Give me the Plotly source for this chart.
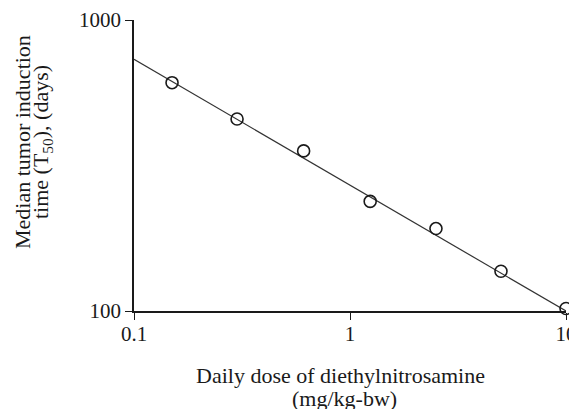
import plotly.graph_objects as go

# Data (log-log)
dose = [0.15, 0.3, 0.61, 1.24, 2.5, 5.0, 10.0]
t50 = [609, 457, 355, 238, 192, 137, 102]
fit_dose = [0.1, 10.0]
fit_t50 = [733, 100]

x_ticks = [0.1, 1, 10]
x_tick_text = ["0.1", "1", "10"]
y_ticks = [100, 1000]
y_tick_text = ["100", "1000"]

x_title_lines = ["Daily dose of diethylnitrosamine", "(mg/kg-bw)"]
y_title_lines = ["Median tumor induction", "time (T<sub>50</sub>), (days)"]

FONT = "Liberation Serif"
FS_TICK = 21
FS_TITLE = 22
INK = "#1a1a1a"

# page has an 8px body margin; design in page pixels, then offset
OFF = 8
W, H = 577 - OFF, 409 - OFF
# plot area in page pixels: x 134..566, y 20..311
L = 134 - OFF
T = 20 - OFF
R = W - (566 - OFF)
B = H - (311 - OFF)
PW, PH = W - L - R, H - T - B


def px_x(px):
    return (px - OFF - L) / PW


def px_y(py):
    return (H - B - (py - OFF)) / PH


fig = go.Figure()
fig.add_trace(go.Scatter(
    x=fit_dose, y=fit_t50, mode="lines",
    line=dict(color="#333333", width=1.2),
    showlegend=False, cliponaxis=False,
))
fig.add_trace(go.Scatter(
    x=dose, y=t50, mode="markers",
    marker=dict(symbol="circle-open", size=12, color=INK,
                line=dict(width=1.6, color=INK)),
    showlegend=False, cliponaxis=False,
))

annotations = [
    dict(text=x_title_lines[0], x=px_x(340), y=px_y(375)),
    dict(text=x_title_lines[1], x=px_x(344), y=px_y(398)),
    dict(text=y_title_lines[0], x=px_x(22), y=px_y(142), textangle=-90),
    dict(text=y_title_lines[1], x=px_x(42), y=px_y(142), textangle=-90),
]
for a in annotations:
    a.update(xref="paper", yref="paper", showarrow=False,
             xanchor="center", yanchor="middle",
             font=dict(family=FONT, size=FS_TITLE, color=INK))

fig.update_layout(
    width=W, height=H,
    margin=dict(l=L, r=R, t=T, b=B, autoexpand=False),
    paper_bgcolor="white", plot_bgcolor="white",
    font=dict(family=FONT, size=FS_TICK, color=INK),
    annotations=annotations,
    xaxis=dict(
        type="log", range=[-1, 1], automargin=False,
        tickmode="array", tickvals=x_ticks, ticktext=x_tick_text,
        ticks="outside", ticklen=7, tickwidth=1.3, tickcolor=INK,
        showline=True, linecolor=INK, linewidth=1.5,
        showgrid=False, zeroline=False, mirror=False,
        tickfont=dict(family=FONT, size=FS_TICK), ticklabelstandoff=-4,
    ),
    yaxis=dict(
        type="log", range=[2, 3], automargin=False,
        tickmode="array", tickvals=y_ticks, ticktext=y_tick_text,
        ticks="outside", ticklen=7, tickwidth=1.3, tickcolor=INK,
        showline=True, linecolor=INK, linewidth=1.5,
        showgrid=False, zeroline=False, mirror=False,
        tickfont=dict(family=FONT, size=FS_TICK), ticklabelstandoff=0,
    ),
)

fig.write_html("out.html")
